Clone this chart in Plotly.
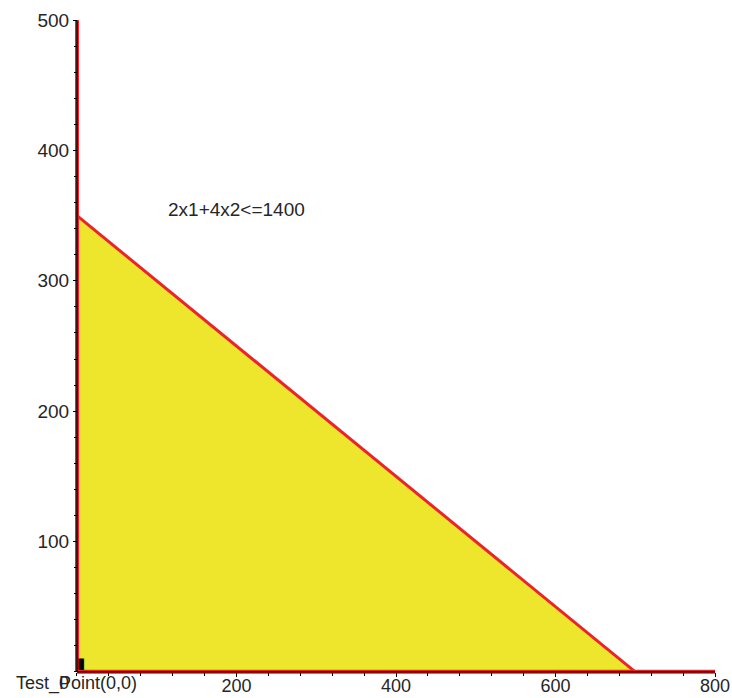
import plotly.graph_objects as go

# Feasible region for the constraint 2*x1 + 4*x2 <= 1400 with x1, x2 >= 0
coef_x1, coef_x2, rhs = 2, 4, 1400
x_intercept = rhs / coef_x1   # 700
y_intercept = rhs / coef_x2   # 350

x_max, y_max = 800, 500
x_ticks = [200, 400, 600, 800]
y_ticks = [100, 200, 300, 400, 500]
constraint_label = "2x1+4x2<=1400"
test_point = (0, 0)
test_label = "Test_Point(0,0)"

RED = "#E8262A"
YELLOW = "#EEE62C"
FONT = "Liberation Sans, Arial, sans-serif"
TXT = "#262626"

# padding so lines at the axes are not clipped
px, py = 5, 4
x_range = [-px, x_max + px]
y_range = [-py, y_max + py]

fig = go.Figure()

# shaded feasible region
fig.add_trace(go.Scatter(
    x=[0, 0, x_intercept, 0], y=[0, y_intercept, 0, 0],
    mode="lines", fill="toself", fillcolor=YELLOW,
    line=dict(width=0), hoverinfo="skip", showlegend=False))

# boundary lines: the constraint and the two non-negativity bounds
fig.add_trace(go.Scatter(x=[0, x_intercept], y=[y_intercept, 0], mode="lines",
                         line=dict(color=RED, width=3), showlegend=False))
fig.add_trace(go.Scatter(x=[0, 0], y=[0, y_max], mode="lines",
                         line=dict(color=RED, width=4), showlegend=False))
fig.add_trace(go.Scatter(x=[0, x_max], y=[0, 0], mode="lines",
                         line=dict(color=RED, width=4), showlegend=False))

# black coordinate axes
fig.add_trace(go.Scatter(x=[0, 0], y=[0, y_max], mode="lines",
                         line=dict(color="black", width=1.3), showlegend=False))
fig.add_trace(go.Scatter(x=[0, x_max], y=[0, 0], mode="lines",
                         line=dict(color="black", width=1.3), showlegend=False))

# test point marker
fig.add_trace(go.Scatter(x=[test_point[0]], y=[test_point[1]], mode="text",
                         text=["\u25ae"], textposition="top right",
                         textfont=dict(size=15, color="black", family="DejaVu Sans"),
                         showlegend=False, cliponaxis=False))

fig.add_annotation(x=200, y=355, text=constraint_label, showarrow=False,
                   font=dict(family=FONT, size=19, color=TXT))
fig.add_annotation(x=test_point[0], y=test_point[1], text=test_label,
                   showarrow=False, yanchor="top", yshift=1,
                   font=dict(family=FONT, size=18, color=TXT))
fig.add_annotation(x=0, y=0, text="0", showarrow=False, yanchor="top",
                   xshift=-13, yshift=1,
                   font=dict(family=FONT, size=18, color=TXT))

x_pos = py / (y_range[1] - y_range[0])
y_pos = px / (x_range[1] - x_range[0])

fig.update_layout(
    width=732, height=698,
    margin=dict(l=73, r=13, t=15, b=21),
    paper_bgcolor="white", plot_bgcolor="white",
    xaxis=dict(range=x_range, tickvals=x_ticks, ticks="outside", ticklen=4,
               tickcolor="black", tickwidth=1, showgrid=False, zeroline=False,
               showline=False, anchor="free", position=x_pos, automargin=False,
               ticklabelstandoff=-6,
               tickfont=dict(family=FONT, size=18, color=TXT),
               minor=dict(dtick=40, tick0=0, ticks="outside", ticklen=3,
                          tickcolor="black", showgrid=False)),
    yaxis=dict(range=y_range, tickvals=y_ticks, ticks="outside", ticklen=4,
               tickcolor="black", tickwidth=1, showgrid=False, zeroline=False,
               showline=False, anchor="free", position=y_pos, automargin=False,
               tickfont=dict(family=FONT, size=19, color=TXT),
               minor=dict(dtick=20, tick0=0, ticks="outside", ticklen=3,
                          tickcolor="black", showgrid=False)),
)

fig.write_html("out.html")
